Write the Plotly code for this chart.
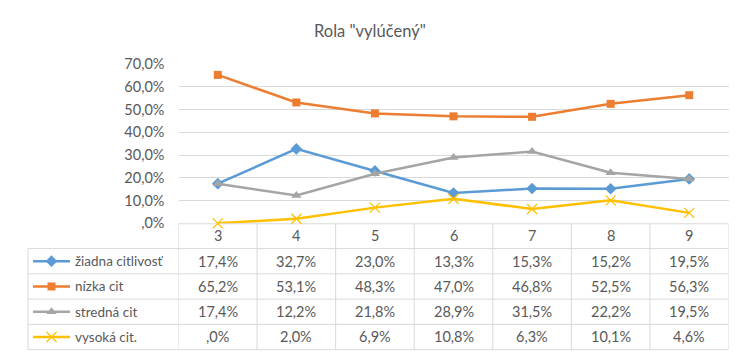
import plotly.graph_objects as go

# ---- data ----
title = 'Rola "vylúčený"'
categories = ["3", "4", "5", "6", "7", "8", "9"]
series_names = ["žiadna citlivosť", "nízka cit", "stredná cit", "vysoká cit."]
ziadna = [17.4, 32.7, 23.0, 13.3, 15.3, 15.2, 19.5]
nizka = [65.2, 53.1, 48.3, 47.0, 46.8, 52.5, 56.3]
stredna = [17.4, 12.2, 21.8, 28.9, 31.5, 22.2, 19.5]
vysoka = [0.0, 2.0, 6.9, 10.8, 6.3, 10.1, 4.6]
y_ticks = [0, 10, 20, 30, 40, 50, 60, 70]

series_values = [ziadna, nizka, stredna, vysoka]
colors = ["#5B9BD5", "#ED7D31", "#A5A5A5", "#FFC000"]
symbols = ["diamond", "square", "triangle-up", "x-thin"]
msizes = [9, 8, 9, 10]

W, H = 740, 362
OFF = 8  # page body margin
FONT = "Lato"
TXT = "#595959"
GRID = "#D9D9D9"


def fmt(v):
    s = f"{v:.1f}".replace(".", ",")
    if s.startswith("0,"):
        s = s[1:]
    return s + "%"


def px(x):
    return (x - OFF) / W


def py(y):
    return 1 - (y - OFF) / H


plot_left, plot_right = 178.5, 728.5
plot_top, plot_bottom = 57.3, 224.5
row_lines = [251, 277.5, 304, 330.5, 357]
legend_left = 28

fig = go.Figure()


def make_marker(sym, ms, c):
    m = dict(symbol=sym, size=ms, color=c)
    if sym == "x-thin":
        m["line"] = dict(color=c, width=1.3)
    return m


for name, vals, c, sym, ms in zip(series_names, series_values, colors, symbols, msizes):
    fig.add_trace(go.Scatter(
        x=categories, y=vals, mode="lines+markers", name=name,
        line=dict(color=c, width=2.5), marker=make_marker(sym, ms, c), showlegend=False,
        xaxis="x", yaxis="y", cliponaxis=False,
    ))

# legend keys inside the table (overlay pixel axes)
for i, (name, c, sym, ms) in enumerate(zip(series_names, colors, symbols, msizes)):
    yc = (row_lines[i] + row_lines[i + 1]) / 2 - OFF
    fig.add_trace(go.Scatter(
        x=[33 - OFF, 70 - OFF], y=[yc, yc], mode="lines",
        line=dict(color=c, width=2.5), showlegend=False, hoverinfo="skip",
        xaxis="x2", yaxis="y2",
    ))
    fig.add_trace(go.Scatter(
        x=[51.5 - OFF], y=[yc], mode="markers", marker=make_marker(sym, ms, c),
        showlegend=False, hoverinfo="skip", xaxis="x2", yaxis="y2",
    ))

shapes = []
shapes.append(dict(type="line", xref="paper", yref="paper", layer="below",
                   x0=px(plot_left), x1=px(plot_right), y0=py(plot_bottom + 0.5), y1=py(plot_bottom + 0.5),
                   line=dict(color=GRID, width=1)))
for yl in row_lines:
    shapes.append(dict(type="line", xref="paper", yref="paper", layer="below",
                       x0=px(legend_left), x1=px(plot_right), y0=py(yl), y1=py(yl),
                       line=dict(color=GRID, width=1)))
for i in range(len(categories) + 1):
    shapes.append(dict(type="line", xref="x", yref="paper", layer="below",
                       x0=i - 0.5, x1=i - 0.5, y0=py(plot_bottom + 0.5), y1=py(row_lines[-1]),
                       line=dict(color=GRID, width=1)))
shapes.append(dict(type="line", xref="paper", yref="paper", layer="below",
                   x0=px(legend_left), x1=px(legend_left), y0=py(row_lines[0]), y1=py(row_lines[-1]),
                   line=dict(color=GRID, width=1)))

annotations = []
font = dict(family=FONT, size=13.5, color=TXT)
vfont = dict(family=FONT, size=14.5, color=TXT)
hdr_y = (plot_bottom + row_lines[0]) / 2
for j, c in enumerate(categories):
    annotations.append(dict(x=j, y=py(hdr_y), xref="x", yref="paper", text=c,
                            showarrow=False, font=vfont, xanchor="center", yanchor="middle"))
for i, (name, vals) in enumerate(zip(series_names, series_values)):
    yc = (row_lines[i] + row_lines[i + 1]) / 2
    annotations.append(dict(x=px(73), y=py(yc), xref="paper", yref="paper", text=name,
                            showarrow=False, font=font, xanchor="left", yanchor="middle"))
    for j, v in enumerate(vals):
        annotations.append(dict(x=j, y=py(yc), xref="x", yref="paper", text=fmt(v),
                                showarrow=False, font=vfont, xanchor="center", yanchor="middle"))

annotations.append(dict(x=px(370), y=py(23), xref="paper", yref="paper", text=title,
                        showarrow=False, font=dict(family=FONT, size=16.5, color=TXT),
                        xanchor="center", yanchor="middle"))

fig.update_layout(
    width=W, height=H,
    margin=dict(l=0, r=0, t=0, b=0),
    paper_bgcolor="white", plot_bgcolor="rgba(0,0,0,0)",
    showlegend=False,
    xaxis=dict(domain=[px(plot_left), px(plot_right)], type="category",
               categoryorder="array", categoryarray=categories,
               range=[-0.5, len(categories) - 0.5],
               showticklabels=False, showgrid=False, zeroline=False, showline=False, ticks=""),
    yaxis=dict(domain=[py(plot_bottom), py(plot_top)], range=[0, 70],
               tickvals=y_ticks, ticktext=[fmt(v) for v in y_ticks],
               tickfont=dict(family=FONT, size=14.5, color=TXT),
               showgrid=True, gridcolor=GRID, gridwidth=1, zeroline=False, showline=False,
               ticks="", ticklabelstandoff=13),
    xaxis2=dict(domain=[0, 1], range=[0, W], visible=False, anchor="y2"),
    yaxis2=dict(domain=[0, 1], range=[H, 0], visible=False, anchor="x2"),
    shapes=shapes,
    annotations=annotations,
    font=dict(family=FONT, color=TXT),
)

fig.write_html("out.html")
